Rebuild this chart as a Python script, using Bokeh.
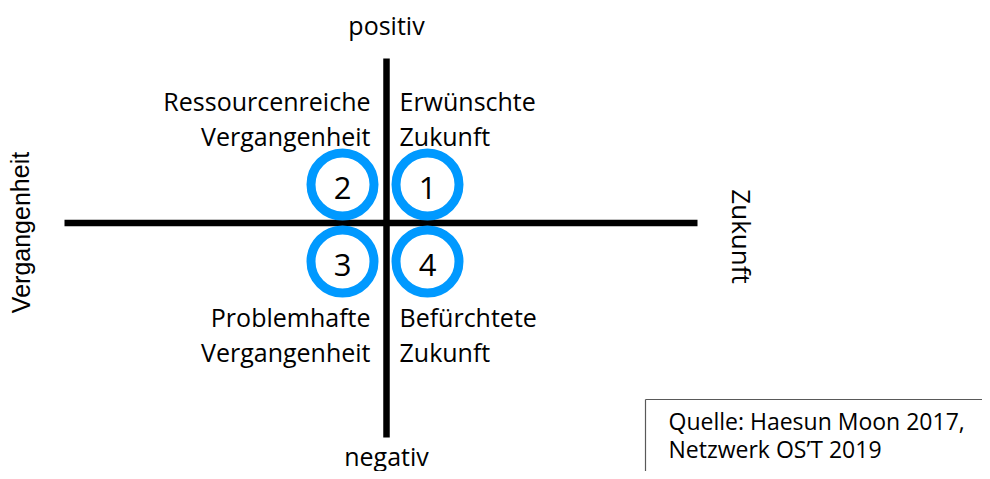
from bokeh.plotting import figure
from bokeh.models import ColumnDataSource, Range1d
from bokeh.core.properties import value
from bokeh.embed import file_html
from bokeh.resources import INLINE
import math

# ---- data ----
quadrant_numbers = ["1", "2", "3", "4"]
quadrant_xsign = [1, -1, -1, 1]      # +1 = Zukunft side, -1 = Vergangenheit side
quadrant_ysign = [1, 1, -1, -1]      # +1 = positiv, -1 = negativ
quadrant_line1 = ["Erwünschte", "Ressourcenreiche", "Problemhafte", "Befürchtete"]
quadrant_line2 = ["Zukunft", "Vergangenheit", "Vergangenheit", "Zukunft"]
axis_top = "positiv"
axis_bottom = "negativ"
axis_left = "Vergangenheit"
axis_right = "Zukunft"
source_lines = ["Quelle: Haesun Moon 2017,", "Netzwerk OS\u2019T 2019"]

# ---- layout (picture pixel coordinates) ----
W, H = 982, 471
cx, cy = 386, 222.5
FONT = "Open Sans"
DY = -8  # baseline correction

p = figure(width=W, height=H, output_backend="svg", toolbar_location=None,
           x_range=Range1d(0, W), y_range=Range1d(H, 0),
           min_border=0, outline_line_color=None)
p.axis.visible = False
p.grid.visible = False
p.background_fill_color = "white"
p.border_fill_color = "white"

# axes cross
p.segment(x0=[cx, 64], y0=[58, cy], x1=[cx, 697], y1=[437, cy],
          line_color="black", line_width=6.5)

# circles
circ_x = [cx + (41 if s > 0 else -44) for s in quadrant_xsign]
circ_y = [cy + (-38.5 if s > 0 else 38.5) for s in quadrant_ysign]
p.scatter(x=circ_x, y=circ_y, size=63, fill_color=None,
          line_color="#0099FF", line_width=9)
p.text(x=circ_x, y=[y + 3 for y in circ_y], text=quadrant_numbers,
       text_align="center", text_baseline="middle",
       text_font=value(FONT), text_font_size="31px", text_color="black")

# quadrant labels
lx = [cx + 13 if s > 0 else cx - 16 for s in quadrant_xsign]
ly1 = [108 + DY if s > 0 else 324 + DY for s in quadrant_ysign]
ly2 = [y + 35 for y in ly1]
al = ["left" if s > 0 else "right" for s in quadrant_xsign]
src = ColumnDataSource(dict(x=lx + lx, y=ly1 + ly2, t=quadrant_line1 + quadrant_line2, a=al + al))
p.text(x="x", y="y", text="t", text_align="a", text_baseline="alphabetic",
       text_font=value(FONT), text_font_size="25px", text_color="black", source=src)

# axis end labels
p.text(x=[cx], y=[32 + DY], text=[axis_top], text_align="center",
       text_baseline="alphabetic", text_font=value(FONT), text_font_size="25px",
       text_color="black")
p.text(x=[cx], y=[463 + DY], text=[axis_bottom], text_align="center",
       text_baseline="alphabetic", text_font=value(FONT), text_font_size="25px",
       text_color="black")
p.text(x=[20], y=[232], text=[axis_left], angle=[math.pi / 2], text_align="center",
       text_baseline="alphabetic", text_font=value("Liberation Sans"),
       text_font_size="25px", text_color="black")
p.text(x=[741], y=[236], text=[axis_right], angle=[-math.pi / 2], text_align="center",
       text_baseline="alphabetic", text_font=value(FONT), text_font_size="26px",
       text_color="black")

# source box (extends past the picture's right and bottom edges)
p.quad(left=[645], right=[1100], top=[399], bottom=[600], fill_color="white",
       line_color=None)
p.segment(x0=[645, 645], y0=[399, 399], x1=[1100, 645], y1=[399, 600],
          line_color="#595959", line_width=1.2)
p.text(x=[668, 668], y=[428 + DY, 456 + DY], text=source_lines, text_align="left",
       text_baseline="alphabetic", text_font=value(FONT), text_font_size="23px",
       text_color="black")

open("out.html", "w").write(file_html(p, INLINE))
